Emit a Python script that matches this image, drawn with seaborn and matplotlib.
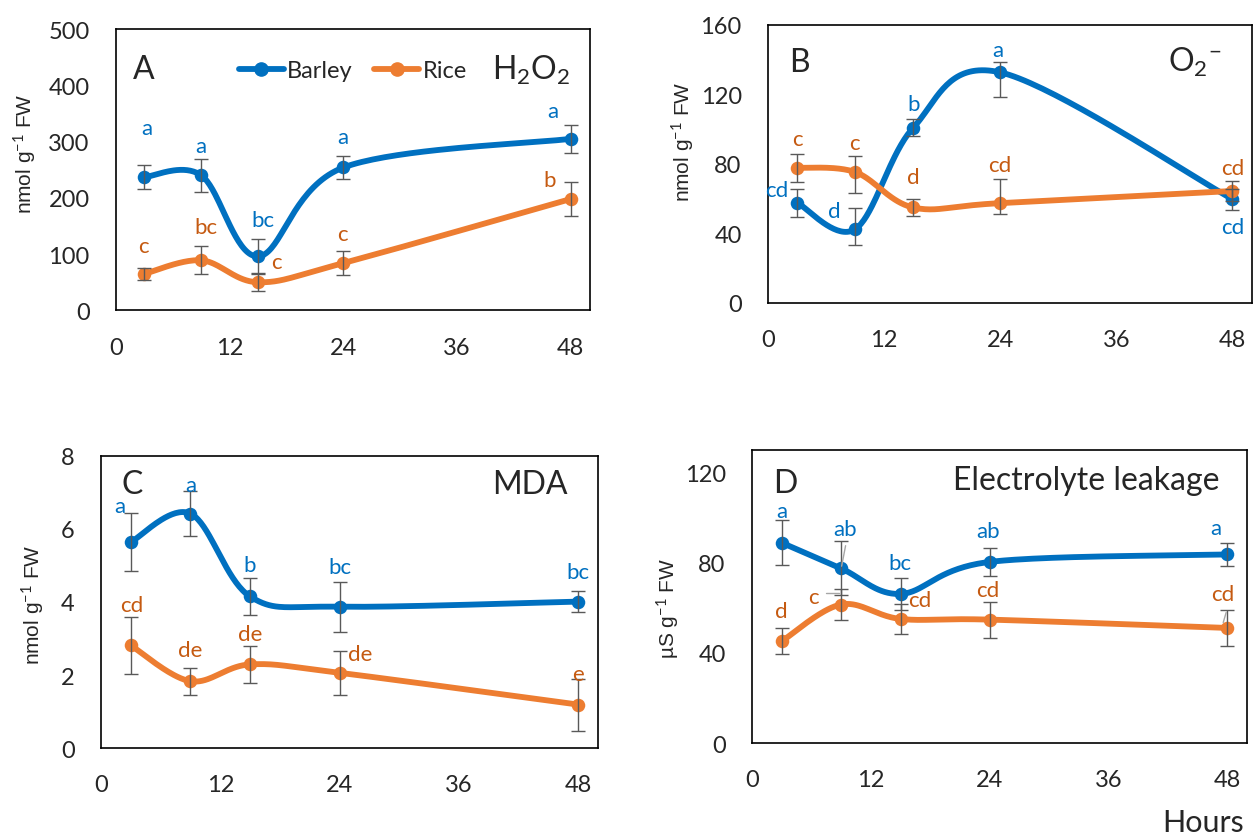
import numpy as np
import pandas as pd
import seaborn as sns
import matplotlib.pyplot as plt
from matplotlib.lines import Line2D

hours = [3, 9, 15, 24, 48]
series_names = ["Barley", "Rice"]

# A - H2O2
h2o2_barley = [237, 240, 96, 254, 305]
h2o2_barley_err = [22, 29, 30, 20, 25]
h2o2_rice = [65, 89, 50, 84, 198]
h2o2_rice_err = [11, 25, 15, 21, 30]
h2o2_barley_letters = ["a", "a", "bc", "a", "a"]
h2o2_barley_letter_xy = [(3.3, 325), (8.9, 293), (15.5, 161), (23.9, 308), (46.1, 355)]
h2o2_rice_letters = ["c", "bc", "c", "c", "b"]
h2o2_rice_letter_xy = [(2.9, 115), (9.5, 148), (16.9, 86), (23.9, 136), (45.8, 231)]

# B - superoxide (asymmetric error bars: lower, upper)
o2_barley = [57.7, 42.4, 100.8, 132.7, 59.7]
o2_barley_err = ([8, 9, 5, 14, 6], [8, 12, 5, 6, 6])
o2_rice = [77.8, 75.3, 54.9, 57.4, 64.4]
o2_rice_err = ([8, 12, 5, 6, 6], [8, 9, 5, 14, 6])
o2_barley_letters = ["cd", "d", "b", "a", "cd"]
o2_barley_letter_xy = [(0.9, 65), (6.8, 53), (15.0, 114.7), (23.8, 145.7), (48.0, 43.4)]
o2_rice_letters = ["c", "c", "d", "cd", "cd"]
o2_rice_letter_xy = [(3.0, 94.5), (8.9, 91.8), (15.0, 72.5), (24.0, 79.3), (48.0, 77.8)]

# C - MDA
mda_barley = [5.64, 6.42, 4.15, 3.87, 4.01]
mda_barley_err = [0.8, 0.62, 0.5, 0.69, 0.29]
mda_rice = [2.81, 1.83, 2.29, 2.06, 1.19]
mda_rice_err = [0.79, 0.37, 0.5, 0.6, 0.71]
mda_barley_letters = ["a", "a", "b", "bc", "bc"]
mda_barley_letter_xy = [(1.9, 6.63), (9.0, 7.21), (15.0, 5.0), (24.0, 4.95), (48.0, 4.83)]
mda_rice_letters = ["cd", "de", "de", "de", "e"]
mda_rice_letter_xy = [(3.1, 3.91), (9.0, 2.68), (15.0, 3.12), (26.1, 2.57), (48.0, 2.02)]

# D - electrolyte leakage
el_barley = [88.9, 77.5, 66.2, 80.4, 83.7]
el_barley_err = [10, 12, 7, 6.3, 5.2]
el_rice = [45.2, 61.5, 55.1, 54.8, 51.1]
el_rice_err = [5.7, 6.7, 6.7, 8, 7.8]
el_barley_letters = ["a", "ab", "bc", "ab", "a"]
el_barley_letter_xy = [(3.0, 103), (9.4, 94.8), (14.9, 79.7), (23.8, 94), (46.9, 95.6)]
el_rice_letters = ["d", "c", "cd", "cd", "cd"]
el_rice_letter_xy = [(3.0, 58.5), (6.2, 64.7), (16.9, 63.7), (23.8, 68.1), (47.6, 66.2)]
# thin leader lines from letters to points in panel D
el_leaders = [((9.45, 87.6), (9.05, 78.5)), ((7.5, 66.7), (8.8, 66.7)), ((47.9, 58.0), (47.6, 53.5))]

panels = [
    dict(tag="A", title=r"H$_2$O$_2$", ymax=500, yticks=[0, 100, 200, 300, 400, 500],
         ylabel=r"nmol g$^{-1}$ FW", rect=[0.0926, 0.628, 0.378, 0.336],
         label_xy=(-0.192, 0.562), tag_xy=(0.035, 0.858), title_xy=(0.96, 0.858),
         data=[(h2o2_barley, h2o2_barley_err, h2o2_barley_letters, h2o2_barley_letter_xy),
               (h2o2_rice, h2o2_rice_err, h2o2_rice_letters, h2o2_rice_letter_xy)]),
    dict(tag="B", title=r"O$_2$$^{-}$", ymax=160, yticks=[0, 40, 80, 120, 160],
         ylabel=r"nmol g$^{-1}$ FW", rect=[0.613, 0.637, 0.386, 0.332],
         label_xy=(-0.176, 0.583), tag_xy=(0.043, 0.866), title_xy=(0.937, 0.87),
         data=[(o2_barley, o2_barley_err, o2_barley_letters, o2_barley_letter_xy),
               (o2_rice, o2_rice_err, o2_rice_letters, o2_rice_letter_xy)]),
    dict(tag="C", title="MDA", ymax=8, yticks=[0, 2, 4, 6, 8],
         ylabel=r"nmol g$^{-1}$ FW", rect=[0.0806, 0.1051, 0.3967, 0.349],
         label_xy=(-0.135, 0.495), tag_xy=(0.041, 0.905), title_xy=(0.939, 0.905),
         data=[(mda_barley, mda_barley_err, mda_barley_letters, mda_barley_letter_xy),
               (mda_rice, mda_rice_err, mda_rice_letters, mda_rice_letter_xy)]),
    dict(tag="D", title="Electrolyte leakage", ymax=130, yticks=[0, 40, 80, 120],
         ylabel=r"µS g$^{-1}$ FW", rect=[0.6002, 0.111, 0.395, 0.350],
         label_xy=(-0.17, 0.464), tag_xy=(0.042, 0.889), title_xy=(0.945, 0.897),
         data=[(el_barley, el_barley_err, el_barley_letters, el_barley_letter_xy),
               (el_rice, el_rice_err, el_rice_letters, el_rice_letter_xy)]),
]

line_colors = ["#0070C0", "#ED7D31"]
letter_colors = ["#0070C0", "#C55A11"]
err_color = "#595959"


def smooth(x, y, sx, sy, n=40):
    # Excel-like smoothed line (Bezier through the points)
    p = np.column_stack([np.asarray(x, float) * sx, np.asarray(y, float) * sy])
    pts = np.vstack([p[0], p, p[-1]])
    segs = []
    t = np.linspace(0, 1, n)[:, None]
    for i in range(1, len(pts) - 2):
        p0, p1, p2, p3 = pts[i - 1], pts[i], pts[i + 1], pts[i + 2]
        c1 = p1 + (p2 - p0) / 6
        c2 = p2 - (p3 - p1) / 6
        segs.append((1 - t) ** 3 * p1 + 3 * (1 - t) ** 2 * t * c1 + 3 * (1 - t) * t ** 2 * c2 + t ** 3 * p2)
    s = np.vstack(segs)
    return s[:, 0] / sx, s[:, 1] / sy


sns.set_style("white")
plt.rcParams['font.family'] = ['Lato', 'DejaVu Sans']
plt.rcParams['mathtext.fontset'] = 'custom'
plt.rcParams['mathtext.rm'] = 'Lato'
plt.rcParams['mathtext.it'] = 'Lato'

fig = plt.figure(figsize=(12.53, 8.37), dpi=100)
fig.patch.set_facecolor('white')

for p in panels:
    ax = fig.add_axes(p["rect"])
    w_px = p["rect"][2] * 1253
    h_px = p["rect"][3] * 837
    for k, (vals, err, letters, lxy) in enumerate(p["data"]):
        xs, ys = smooth(hours, vals, w_px / 50, h_px / p["ymax"])
        sns.lineplot(x=xs, y=ys, sort=False, color=line_colors[k], linewidth=4.2, ax=ax, zorder=2)
        sns.scatterplot(x=hours, y=vals, color=line_colors[k], s=95, linewidth=0, ax=ax, zorder=3)
        if isinstance(err, tuple):
            yerr = [err[0], err[1]]
        else:
            yerr = err
        ax.errorbar(hours, vals, yerr=yerr, fmt='none', ecolor=err_color, elinewidth=1.0,
                    capsize=5, capthick=1.0, zorder=4)
        for lab, (lx, ly) in zip(letters, lxy):
            ax.text(lx, ly, lab, color=letter_colors[k], fontsize=16, ha='center', va='center', zorder=5)

    ax.set_xlim(0, 50)
    ax.set_ylim(0, p["ymax"])
    ax.set_xticks([0, 12, 24, 36, 48])
    ax.set_yticks(p["yticks"])
    ax.tick_params(axis='both', length=0, labelsize=17, pad=19)
    for sp in ax.spines.values():
        sp.set_visible(True)
        sp.set_color('black')
        sp.set_linewidth(1.2)
    ax.set_xlabel("")
    ax.set_ylabel(p["ylabel"], fontsize=15, family=['Liberation Sans', 'DejaVu Sans'], va='center')
    ax.yaxis.set_label_coords(*p["label_xy"])
    ax.text(p["tag_xy"][0], p["tag_xy"][1], p["tag"], transform=ax.transAxes, fontsize=23,
            ha='left', va='center')
    ax.text(p["title_xy"][0], p["title_xy"][1], p["title"], transform=ax.transAxes, fontsize=23,
            ha='right', va='center')

    if p["tag"] == "A":
        handles = [Line2D([], [], color=c, linewidth=4.2, marker='o', markersize=9.5) for c in line_colors]
        ax.legend(handles, series_names, ncol=2, loc='center', bbox_to_anchor=(0.5, 0.852),
                  frameon=False, fontsize=17, handlelength=1.9, handletextpad=0.15, columnspacing=0.9,
                  borderpad=0)
    if p["tag"] == "D":
        for (x0, y0), (x1, y1) in el_leaders:
            ax.plot([x0, x1], [y0, y1], color="#A6A6A6", linewidth=1.0, zorder=4)

fig.text(1203 / 1253, 1 - 823 / 837, "Hours", fontsize=22, ha='center', va='center')

fig.savefig("out.png", dpi=100, facecolor='white')
